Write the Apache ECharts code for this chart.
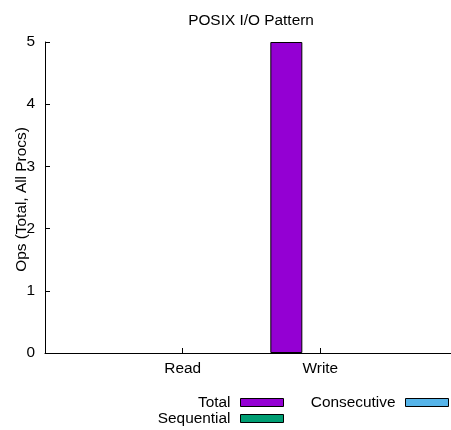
<!DOCTYPE html>
<html><head><meta charset="utf-8">
<script src="https://cdn.jsdelivr.net/npm/echarts@6/dist/echarts.min.js"></script>
<style>html,body{margin:0;padding:0;background:#fff}#c{width:451px;height:430px}</style>
</head><body><div id="c"></div>
<script>
const categories = ['Read', 'Write'];
const totalOps = [0, 5];
const sequentialOps = [0, 0];
const consecutiveOps = [0, 0];
const yMin = 0, yMax = 5, yStep = 1;

const FONT = 'Liberation Sans';
const FS = 15.4;
const pad = arr => [null, ...arr.map(v => ({ value: v, itemStyle: v === 0 ? { borderWidth: 0 } : {} })), null];
const xCats = ['', ...categories, ' '];

const colors = { Total: '#9400D3', Sequential: '#009E73', Consecutive: '#56B4E9' };
function mkSeries(name, data) {
  return {
    name, type: 'bar', data: pad(data), barWidth: 32, barGap: '6.25%',
    itemStyle: { color: colors[name], borderColor: '#000', borderWidth: 1 },
    emphasis: { disabled: true }, animation: false
  };
}
function mkLegend(name, right, top) {
  return {
    data: [{ name, itemStyle: { color: colors[name], borderColor: '#000', borderWidth: 1 } }],
    right, top, padding: 0, align: 'right', icon: 'rect', itemWidth: 43, itemHeight: 8,
    selectedMode: false,
    textStyle: { fontFamily: FONT, fontSize: FS, color: '#000', padding: [0, 5, 0, 0] }
  };
}
const chart = echarts.init(document.getElementById('c'), null, { renderer: 'canvas' });
chart.setOption({
  animation: false,
  title: {
    text: 'POSIX I/O Pattern', left: 251, top: 13, padding: 0, textAlign: 'center',
    textStyle: { fontFamily: FONT, fontSize: FS, fontWeight: 'normal', color: '#000' }
  },
  grid: { left: 45, right: -7, top: 42, bottom: 77, containLabel: false, outerBoundsMode: 'none' },
  legend: [
    mkLegend('Total', 167, 395),
    mkLegend('Sequential', 167, 411),
    mkLegend('Consecutive', 2, 395)
  ],
  xAxis: {
    type: 'category', data: xCats, boundaryGap: false,
    axisLine: { show: true, lineStyle: { color: '#000', width: 1 } },
    axisTick: { show: true, inside: true, length: 5, lineStyle: { color: '#000' } },
    axisLabel: { fontFamily: FONT, fontSize: FS, color: '#000', margin: 8, interval: 0 },
    splitLine: { show: false }
  },
  yAxis: {
    type: 'value', min: yMin, max: yMax, interval: yStep,
    name: 'Ops (Total, All Procs)', nameLocation: 'middle', nameGap: 16, nameRotate: 90,
    nameMoveOverlap: false,
    nameTextStyle: { fontFamily: FONT, fontSize: FS, color: '#000', padding: [0, 4, 0, 0] },
    axisLine: { show: true, lineStyle: { color: '#000', width: 1 } },
    axisTick: { show: true, inside: true, length: 5, lineStyle: { color: '#000' } },
    axisLabel: { fontFamily: FONT, fontSize: FS, color: '#000', margin: 10 },
    splitLine: { show: false }
  },
  series: [
    mkSeries('Total', totalOps),
    mkSeries('Sequential', sequentialOps),
    mkSeries('Consecutive', consecutiveOps)
  ]
});
</script></body></html>
